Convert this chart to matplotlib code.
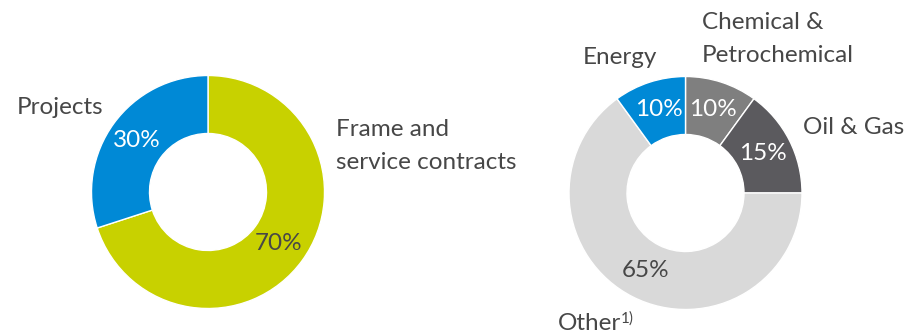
import matplotlib.pyplot as plt

# left donut: contract type
left_labels = ["Frame and\nservice contracts", "Projects"]
left_values = [70, 30]
left_colors = ["#C8D100", "#0089D6"]

# right donut: industry
right_labels = ["Chemical &\nPetrochemical", "Oil & Gas", "Other", "Energy"]
right_values = [10, 15, 65, 10]
right_colors = ["#7F7F7F", "#5B5A5E", "#D9D9D9", "#0089D6"]

txt_dark = "#474747"
plt.rcParams['font.family'] = ['Lato', 'DejaVu Sans']

fig = plt.figure(figsize=(9.05, 3.33), dpi=100)
ax = fig.add_axes([0, 0, 1, 1])

R = 116.5
W = 58
FS = 17.5


def donut(values, colors, center, pct_colors):
    wedges, texts, autotexts = ax.pie(
        values, colors=colors, startangle=90, counterclock=False,
        center=center, radius=R, autopct='%d%%', pctdistance=0.75,
        wedgeprops=dict(width=W, edgecolor='white', linewidth=1),
        textprops=dict(fontsize=FS))
    for t, c in zip(autotexts, pct_colors):
        t.set_color(c)
    return wedges


donut(left_values, left_colors, (208, 333 - 192), [txt_dark, "white"])
donut(right_values, right_colors, (685.5, 333 - 193),
      ["white", "white", txt_dark, "white"])

kw = dict(fontsize=FS, color=txt_dark, va='center')
ax.text(17, 333 - 108, left_labels[1], ha='left', **kw)
ax.text(336, 333 - 146, left_labels[0], ha='left', linespacing=1.65, **kw)
ax.text(620, 333 - 58, right_labels[3], ha='center', **kw)
ax.text(702, 333 - 39, right_labels[0], ha='left', linespacing=1.75, **kw)
ax.text(803, 333 - 128, right_labels[1], ha='left', **kw)
other = ax.text(558, 333 - 323, right_labels[2], ha='left', **kw)
ax.annotate("1)", xy=(1.0, 1.0), xycoords=other, xytext=(-0.5, 0.5),
            textcoords='offset points', ha='left', va='top',
            fontsize=11, color=txt_dark)

ax.set_xlim(0, 905)
ax.set_ylim(0, 333)
ax.set_aspect('equal')
ax.axis('off')

fig.savefig("out.png", dpi=100)
